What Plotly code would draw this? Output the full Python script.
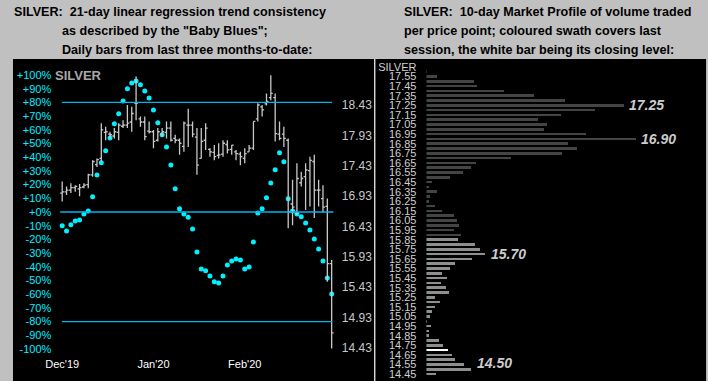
import plotly.graph_objects as go

W, H = 708, 381

# ---------------- data ----------------
day_index = list(range(63))
opens = [16.98, 17.00, 17.03, 17.07, 17.05, 17.08, 17.12, 17.28, 17.45, 17.55,
         17.98, 17.95, 17.92, 17.98, 18.08, 18.10, 18.15, 18.46, 18.20, 18.15,
         18.00, 17.99, 17.85, 17.95, 17.98, 18.05, 17.88, 17.85, 17.75, 18.10,
         18.10, 17.90, 17.55, 17.85, 17.70, 17.65, 17.60, 17.62, 17.78, 17.70,
         17.66, 17.62, 17.55, 17.66, 17.72, 18.20, 18.40, 18.45, 18.55, 18.55,
         17.95, 17.95, 17.85, 16.80, 16.65, 17.15, 17.25, 17.35, 17.50, 17.03,
         16.89, 16.76, 15.82]
closes = [17.00, 17.03, 17.07, 17.09, 17.07, 17.11, 17.28, 17.50, 17.53, 18.02,
          17.99, 17.94, 17.99, 18.10, 18.10, 18.13, 18.29, 18.46, 18.15, 17.91,
          17.99, 17.83, 17.99, 17.99, 18.05, 17.85, 17.85, 17.80, 18.13, 18.10,
          17.95, 17.44, 17.83, 18.05, 17.66, 17.58, 17.61, 17.80, 17.69, 17.77,
          17.63, 17.58, 17.63, 17.72, 18.16, 18.43, 18.35, 18.49, 18.62, 17.96,
          17.88, 17.88, 16.67, 16.75, 17.22, 17.22, 17.36, 17.52, 17.03, 17.03,
          16.75, 15.82, 14.68]
highs = [17.17, 17.09, 17.14, 17.11, 17.13, 17.14, 17.30, 17.52, 17.55, 18.13,
         18.07, 17.99, 18.05, 18.13, 18.18, 18.43, 18.40, 18.90, 18.24, 18.24,
         18.16, 18.02, 18.05, 18.05, 18.16, 18.16, 17.94, 17.88, 18.16, 18.37,
         18.16, 18.05, 18.05, 18.13, 17.72, 17.77, 17.80, 17.85, 17.85, 17.77,
         17.69, 17.66, 17.72, 17.77, 18.16, 18.46, 18.43, 18.62, 18.92, 18.62,
         18.16, 18.07, 17.88, 17.20, 17.47, 17.33, 17.47, 17.58, 17.61, 17.20,
         17.11, 16.89, 15.88]
lows = [16.84, 16.95, 16.98, 17.00, 16.93, 17.06, 17.06, 17.25, 17.41, 17.50,
        17.85, 17.88, 17.88, 17.85, 18.05, 18.05, 17.99, 18.18, 18.07, 17.85,
        17.96, 17.72, 17.83, 17.91, 17.88, 17.83, 17.80, 17.61, 17.66, 17.74,
        17.90, 17.28, 17.55, 17.69, 17.58, 17.52, 17.55, 17.58, 17.63, 17.61,
        17.52, 17.44, 17.47, 17.66, 17.69, 18.16, 18.24, 18.42, 18.51, 17.83,
        17.85, 17.74, 16.40, 16.45, 16.62, 17.09, 16.70, 16.76, 16.57, 16.76,
        16.66, 15.52, 14.42]
baby_blues = [-10.0, -13.9, -9.3, -6.6, -5.8, -1.5, 0.7, 11.2, 27.0, 36.0,
              44.7, 54.0, 64.4, 71.8, 81.0, 90.0, 94.2, 95.6, 92.9, 88.3,
              83.2, 74.5, 65.2, 56.4, 47.4, 34.3, 17.0, 2.4, -1.5, -3.8,
              -12.4, -29.2, -41.6, -42.8, -46.7, -50.9, -51.8, -46.7, -38.7, -35.8,
              -34.3, -35.0, -41.6, -40.1, -21.9, -0.7, 2.4, 10.4, 21.2, 30.9,
              43.3, 36.7, 9.7, 0.7, -1.5, -3.4, -8.0, -13.1, -19.7, -27.0,
              -35.8, -48.2, -59.9]

month_ticks = [0, 21, 42]
month_labels = ["Dec'19", "Jan'20", "Feb'20"]

pct_ticks = [100, 90, 80, 70, 60, 50, 40, 30, 20, 10, 0,
             -10, -20, -30, -40, -50, -60, -70, -80, -90, -100]
pct_labels = ["+100%", "+90%", "+80%", "+70%", "+60%", "+50%", "+40%", "+30%", "+20%", "+10%", "+0%",
              "-10%", "-20%", "-30%", "-40%", "-50%", "-60%", "-70%", "-80%", "-90%", "-100%"]
pct_levels = [80, 0, -80]

price_ticks = [18.43, 17.93, 17.43, 16.93, 16.43, 15.93, 15.43, 14.93, 14.43]
price_labels = ["18.43", "17.93", "17.43", "16.93", "16.43", "15.93", "15.43", "14.93", "14.43"]

profile_prices = [17.60, 17.55, 17.50, 17.45, 17.40, 17.35, 17.30, 17.25, 17.20, 17.15,
                  17.10, 17.05, 17.00, 16.95, 16.90, 16.85, 16.80, 16.75, 16.70, 16.65,
                  16.60, 16.55, 16.50, 16.45, 16.40, 16.35, 16.30, 16.25, 16.20, 16.15,
                  16.10, 16.05, 16.00, 15.95, 15.90, 15.85, 15.80, 15.75, 15.70, 15.65,
                  15.60, 15.55, 15.50, 15.45, 15.40, 15.35, 15.30, 15.25, 15.20, 15.15,
                  15.10, 15.05, 15.00, 14.95, 14.90, 14.85, 14.80, 14.75, 14.70, 14.65,
                  14.60, 14.55, 14.50, 14.45]
profile_volume = [1, 11, 49, 52, 79, 110, 141, 201, 172, 137,
                  114, 123, 120, 163, 213, 144, 153, 138, 86, 51,
                  46, 38, 24, 6, 3, 11, 4, 3, 9, 16,
                  28, 31, 34, 28, 36, 32, 50, 55, 60, 47,
                  29, 24, 16, 21, 15, 20, 23, 9, 14, 9,
                  6, 4, 1, 5, 3, 3, 13, 17, 22, 26,
                  29, 39, 46, 10]
last_session_high = 15.85
last_close = 14.70
profile_axis_ticks = [17.65, 17.55, 17.45, 17.35, 17.25, 17.15, 17.05, 16.95, 16.85, 16.75,
                      16.65, 16.55, 16.45, 16.35, 16.25, 16.15, 16.05, 15.95, 15.85, 15.75,
                      15.65, 15.55, 15.45, 15.35, 15.25, 15.15, 15.05, 14.95, 14.85, 14.75,
                      14.65, 14.55, 14.45]
profile_axis_labels = ["SILVER", "17.55", "17.45", "17.35", "17.25", "17.15", "17.05", "16.95",
                       "16.85", "16.75", "16.65", "16.55", "16.45", "16.35", "16.25", "16.15",
                       "16.05", "15.95", "15.85", "15.75", "15.65", "15.55", "15.45", "15.35",
                       "15.25", "15.15", "15.05", "14.95", "14.85", "14.75", "14.65", "14.55",
                       "14.45"]
profile_callouts = [17.25, 16.90, 15.70, 14.50]

left_title = ["SILVER:  21-day linear regression trend consistency",
              "as described by the \"Baby Blues\";",
              "Daily bars from last three months-to-date:"]
right_title = ["SILVER:  10-day Market Profile of volume traded",
               "per price point; coloured swath covers last",
               "session, the white bar being its closing level:"]

# ---------------- layout geometry (pixels) ----------------
def fx(px):
    return px / W

def fy(py):
    return 1 - py / H

L_X0, L_X1, L_Y0, L_Y1 = 46, 332, 62, 356
BAR0_PX, BAR_STEP = 52, 4.415
PCT0_PY, PCT_PX = 212, 1.37
PRICE_REF, PRICE_REF_PY, PRICE_PX = 14.43, 348, 60.75

x_range = [(L_X0 - BAR0_PX) / BAR_STEP, (L_X1 - BAR0_PX) / BAR_STEP]
pct_range = [(PCT0_PY - L_Y1) / PCT_PX, (PCT0_PY - L_Y0) / PCT_PX]
price_range = [PRICE_REF + (PRICE_REF_PY - L_Y1) / PRICE_PX, PRICE_REF + (PRICE_REF_PY - L_Y0) / PRICE_PX]

R_X0, R_X1, R_Y0, R_Y1 = 422, 706, 60, 381
PROF_REF, PROF_REF_PY, PROF_PX = 17.60, 71.7, 96.0
prof_range = [PROF_REF - (R_Y1 - PROF_REF_PY) / PROF_PX, PROF_REF - (R_Y0 - PROF_REF_PY) / PROF_PX]

FONT = "Arial, Liberation Sans, sans-serif"
GREY = "#c8c8c8"
CYAN = "#00f0ff"
LINE_BLUE = "#00b4f0"

fig = go.Figure()

fig.add_trace(go.Ohlc(
    x=day_index, open=opens, high=highs, low=lows, close=closes,
    increasing=dict(line=dict(color=GREY, width=1.3)),
    decreasing=dict(line=dict(color=GREY, width=1.3)),
    tickwidth=0.45, xaxis="x", yaxis="y2", hoverinfo="skip", showlegend=False))

fig.add_trace(go.Scatter(
    x=day_index, y=baby_blues, mode="markers",
    marker=dict(color=CYAN, size=5, symbol="circle"),
    xaxis="x", yaxis="y", hoverinfo="skip", showlegend=False))

bar_colors = []
for p in profile_prices:
    if abs(p - last_close) < 1e-6:
        bar_colors.append("#ffffff")
    elif p <= last_session_high + 1e-6:
        bar_colors.append("#8e8e8e")
    else:
        bar_colors.append("#444444")

fig.add_trace(go.Bar(
    x=profile_volume, y=profile_prices, orientation="h",
    marker=dict(color=bar_colors, line=dict(width=0)),
    width=0.028, xaxis="x3", yaxis="y3", hoverinfo="skip", showlegend=False))

shapes = [
    dict(type="rect", xref="paper", yref="paper", x0=fx(2), x1=fx(706), y0=fy(381), y1=fy(59),
         fillcolor="black", line=dict(width=0), layer="below"),
    dict(type="line", xref="paper", yref="paper", x0=fx(369.5), x1=fx(369.5), y0=fy(381), y1=fy(59),
         line=dict(color="white", width=1.2)),
]
for lvl in pct_levels:
    x0 = -0.45 if lvl == 0 else -0.05
    x1 = 62.4 if lvl == 0 else 62.1
    shapes.append(dict(type="line", xref="x", yref="y", x0=x0, x1=x1, y0=lvl, y1=lvl,
                       line=dict(color=LINE_BLUE, width=1.3)))

annotations = []
title_rows_py = [11.5, 30.5, 49.5]
for i, t in enumerate(left_title):
    annotations.append(dict(xref="paper", yref="paper", x=fx(1 if i == 0 else 50), y=fy(title_rows_py[i]),
                            text="<b>%s</b>" % t, showarrow=False, xanchor="left", yanchor="middle",
                            font=dict(family=FONT, size=12.6, color="black")))
for i, t in enumerate(right_title):
    annotations.append(dict(xref="paper", yref="paper", x=fx(397), y=fy(title_rows_py[i]),
                            text="<b>%s</b>" % t, showarrow=False, xanchor="left", yanchor="middle",
                            font=dict(family=FONT, size=12.6, color="black")))
annotations.append(dict(xref="paper", yref="paper", x=fx(43), y=fy(76), text="<b>SILVER</b>",
                        showarrow=False, xanchor="left", yanchor="middle",
                        font=dict(family=FONT, size=13, color="#a8a8a8")))
for c in profile_callouts:
    k = profile_prices.index(c)
    annotations.append(dict(xref="x3", yref="y3", x=profile_volume[k], y=c,
                            text="<b><i>%.2f</i></b>" % c, showarrow=False,
                            xanchor="left", yanchor="middle", xshift=3,
                            yshift=6 if c == profile_callouts[-1] else 0,
                            font=dict(family=FONT, size=14, color="#cccccc")))

axis_common = dict(showgrid=False, zeroline=False, showline=False)

fig.update_layout(
    width=W, height=H, autosize=False,
    margin=dict(l=0, r=0, t=0, b=0, pad=0),
    paper_bgcolor="#c0c0c0", plot_bgcolor="black",
    showlegend=False, bargap=0,
    xaxis=dict(domain=[fx(L_X0), fx(L_X1)], range=x_range, tickmode="array",
               tickvals=month_ticks, ticktext=month_labels, ticks="", ticklen=0,
               tickfont=dict(family=FONT, size=11, color="white"),
               rangeslider=dict(visible=False), anchor="y", **axis_common),
    yaxis=dict(domain=[fy(L_Y1), fy(L_Y0)], range=pct_range, tickmode="array",
               tickvals=pct_ticks, ticktext=pct_labels, ticks="", ticklabelstandoff=4,
               tickfont=dict(family=FONT, size=11, color=CYAN), anchor="x", **axis_common),
    yaxis2=dict(domain=[fy(L_Y1), fy(L_Y0)], range=price_range, overlaying="y", side="right",
                tickmode="array", tickvals=price_ticks, ticktext=price_labels, ticks="",
                ticklabelstandoff=3,
                tickfont=dict(family=FONT, size=12, color=GREY), anchor="x", **axis_common),
    xaxis3=dict(domain=[fx(R_X0), fx(R_X1)], range=[0, R_X1 - R_X0], showticklabels=False,
                anchor="y3", **axis_common),
    yaxis3=dict(domain=[fy(R_Y1), fy(R_Y0)], range=prof_range, tickmode="array",
                tickvals=profile_axis_ticks, ticktext=profile_axis_labels, ticks="",
                ticklabelstandoff=9,
                tickfont=dict(family=FONT, size=11, color="#d0d0d0"), anchor="x3", **axis_common),
    shapes=shapes, annotations=annotations,
)

PAGE_FIX = ("document.documentElement.style.margin='0';"
            "document.body.style.margin='0';document.body.style.padding='0';"
            "var gd=document.getElementById('{plot_id}');"
            "gd.style.position='absolute';gd.style.left='0px';gd.style.top='0px';")

fig.write_html("out.html", config={"displayModeBar": False}, post_script=PAGE_FIX)
